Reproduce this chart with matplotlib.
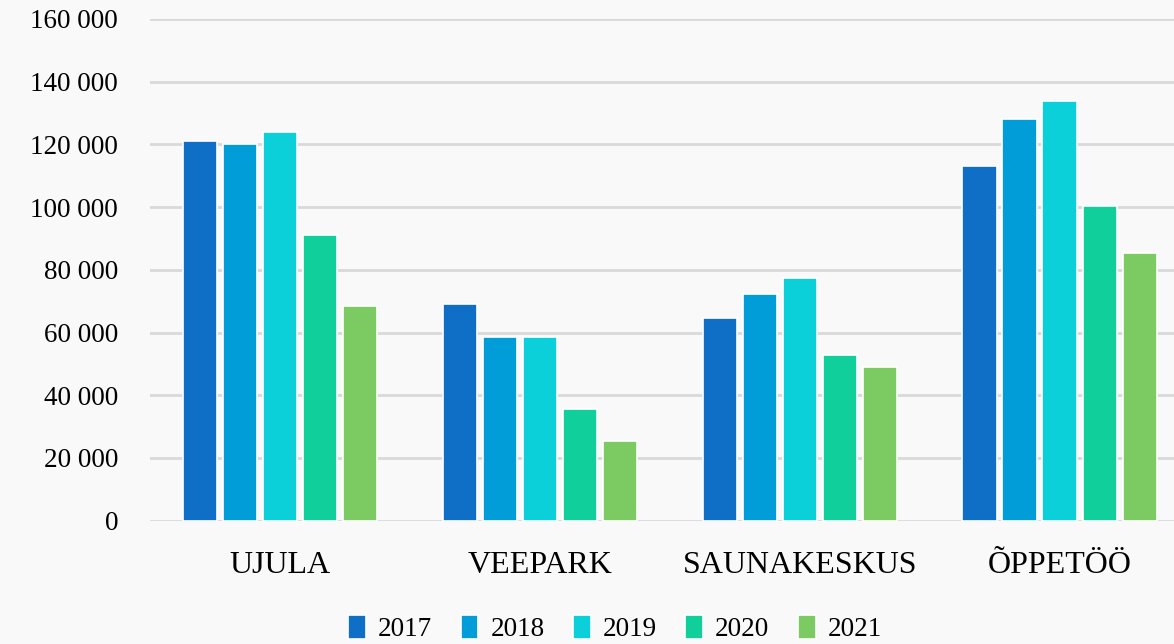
import matplotlib.pyplot as plt
import numpy as np
from matplotlib.ticker import FuncFormatter

plt.rcParams['font.family'] = ['Liberation Serif', 'DejaVu Serif']

kategooriad = ['UJULA', 'VEEPARK', 'SAUNAKESKUS', 'ÕPPETÖÖ']
aastad = ['2017', '2018', '2019', '2020', '2021']
v2017 = [121000, 69000, 64500, 113000]
v2018 = [120000, 58500, 72300, 128000]
v2019 = [124000, 58500, 77500, 134000]
v2020 = [91000, 35500, 53000, 100500]
v2021 = [68500, 25500, 49000, 85500]
varvid = ['#0F6FC6', '#009DD9', '#0BD0D9', '#10CF9B', '#7CCA62']

taust = '#f9f9f9'
fig = plt.figure(figsize=(11.74, 6.44), dpi=100, facecolor=taust)
ax = fig.add_axes([150/1174, 1 - 520.7/644, 1 - 150/1174, 501.7/644])
ax.set_facecolor(taust)

x = np.arange(len(kategooriad))
samm = 0.154
for i, (aasta, vaartused) in enumerate(zip(aastad, [v2017, v2018, v2019, v2020, v2021])):
    ax.bar(x + (i - 2) * samm, vaartused, width=0.132, color=varvid[i],
           edgecolor='white', linewidth=1.2, label=aasta, zorder=3)

ax.set_ylim(0, 160000)
ax.set_xlim(-0.5, 3.44)
ax.set_yticks(range(0, 160001, 20000))
ax.yaxis.set_major_formatter(FuncFormatter(lambda v, p: f'{int(v):,}'.replace(',', ' ')))
ax.yaxis.grid(True, color='#d9d9d9', linewidth=2, zorder=0)
ax.set_axisbelow(True)
for s in ax.spines.values():
    s.set_visible(False)
ax.tick_params(axis='y', length=0, pad=23, labelsize=19.5)
ax.tick_params(axis='x', length=0, pad=22, labelsize=23)
ax.set_xticks(x)
ax.set_xticklabels(kategooriad)

fig.legend(loc='lower center', ncol=5, frameon=False, fontsize=19.5,
           bbox_to_anchor=(0.524, -0.035), handlelength=0.65, handleheight=0.95,
           columnspacing=1.05, handletextpad=0.45)

fig.savefig('out.png', dpi=100, facecolor=taust)
